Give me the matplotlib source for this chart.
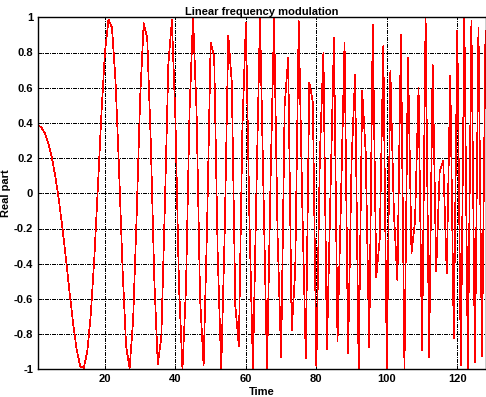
import numpy as np
import matplotlib; matplotlib.use("Agg")
import matplotlib.pyplot as plt
from matplotlib.ticker import FuncFormatter

# real part of the linear FM signal, samples 1..128
time = list(range(1, 129))
real_part = [
    0.386, 0.374, 0.339, 0.281, 0.197, 0.086, -0.049, -0.209, -0.386, -0.570,
    -0.745, -0.892, -0.983, -0.992, -0.897, -0.685, -0.363, 0.037, 0.453, 0.800,
    0.987, 0.941, 0.639, 0.136, -0.431, -0.868, -0.994, -0.720, -0.123, 0.549,
    0.966, 0.880, 0.293, -0.486, -0.973, -0.815, -0.074, 0.737, 0.983, 0.420,
    -0.518, -1.000, -0.539, 0.464, 1.000, 0.464, -0.600, -0.975, -0.172, 0.856,
    0.777, -0.351, -0.998, -0.209, 0.897, 0.629, -0.639, -0.868, 0.363, 0.970,
    -0.148, -0.997, 0.025, 1.000, 0.000, -1.000, 0.074, 0.989, -0.245, -0.932,
    0.496, 0.770, -0.777, -0.442, 0.978, -0.062, -0.936, 0.629, 0.518, -0.985,
    0.221, 0.800, -0.886, -0.012, 0.886, -0.842, -0.025, 0.856, -0.908, 0.184,
    0.676, -0.997, 0.580, 0.233, -0.874, 0.956, -0.475, -0.257, 0.836, -0.992,
    0.694, -0.111, -0.496, 0.902, -0.991, 0.770, -0.339, -0.160, 0.600, -0.892,
    0.999, -0.932, 0.729, -0.442, 0.123, 0.184, -0.453, 0.667, -0.822, 0.923,
    -0.978, 0.999, -0.996, 0.980, -0.960, 0.941, -0.927, 0.923,
]
xticks = [20, 40, 60, 80, 100, 120]
yticks = [-1, -0.8, -0.6, -0.4, -0.2, 0, 0.2, 0.4, 0.6, 0.8, 1]

plt.rcParams["font.family"] = ["Liberation Sans", "DejaVu Sans"]
plt.rcParams["font.weight"] = "bold"

fig = plt.figure(figsize=(4.86, 3.97), dpi=100)
ax = fig.add_axes([38 / 486, 27.7 / 397, 447.5 / 486, 352 / 397])
ax.plot(time, real_part, color="red", lw=0.5, antialiased=False)
ax.set_xlim(1, 128); ax.set_ylim(-1, 1)
ax.set_xticks(xticks); ax.set_yticks(yticks)
ax.yaxis.set_major_formatter(FuncFormatter(lambda v, p: f"{v:g}"))
# 0.72 pt == 1 px at 100 dpi, so dash units below are pixels
ax.grid(True, color="black", linestyle=(0, (4, 2, 1, 2)), linewidth=0.72, antialiased=False)
ax.tick_params(direction="in", length=3, labelsize=8, width=0.72)
for s in ax.spines.values():
    s.set_linewidth(1.0)
ax.set_title("Linear frequency modulation", fontsize=8, fontweight="bold", pad=2)
ax.set_xlabel("Time", fontsize=8, fontweight="bold", labelpad=2)
ax.set_ylabel("Real part", fontsize=8, fontweight="bold", labelpad=2)
fig.savefig("out.png", dpi=100)
